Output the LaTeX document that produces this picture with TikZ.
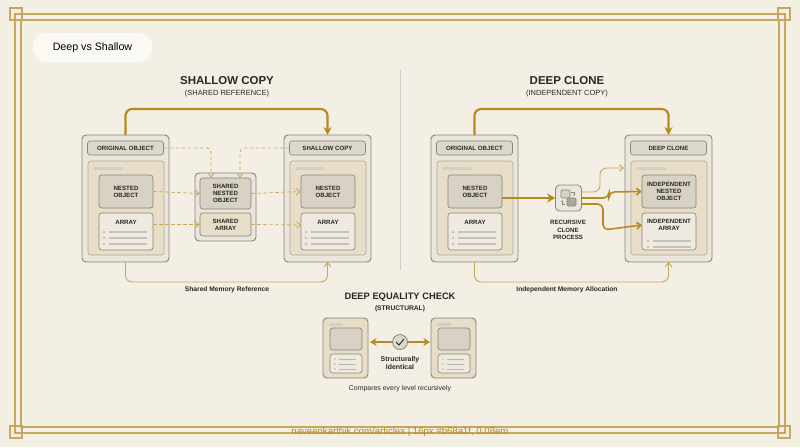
\documentclass[tikz,border=0pt]{standalone}
\usepackage{fontspec}
\setmainfont{Liberation Sans}
\usetikzlibrary{arrows.meta,shapes.geometric}
\definecolor{bg}{HTML}{F3EFE4}
\definecolor{gold}{HTML}{B68A1F}
\definecolor{goldl}{HTML}{C9A75A}
\definecolor{edge}{HTML}{8A857A}
\definecolor{outerf}{HTML}{EAE6DB}
\definecolor{headf}{HTML}{DCD8CC}
\definecolor{panel}{HTML}{E8DEC8}
\definecolor{nestf}{HTML}{D8D2C5}
\definecolor{arrf}{HTML}{EEEAE0}
\definecolor{txt}{HTML}{2A2824}
\begin{document}
\begin{tikzpicture}[x=0.75pt,y=-0.75pt,
  outer/.style={draw=edge,fill=outerf,rounded corners=3pt,line width=0.7pt},
  head/.style={draw=edge,fill=headf,rounded corners=2pt,line width=0.5pt},
  pan/.style={draw=edge!70,fill=panel,rounded corners=2pt,line width=0.5pt},
  nest/.style={draw=edge,fill=nestf,rounded corners=2pt,line width=0.5pt},
  arr/.style={draw=edge,fill=arrf,rounded corners=2pt,line width=0.5pt},
  lbl/.style={font=\fontsize{4.6}{5.4}\selectfont\bfseries,text=txt,align=center},
  gline/.style={draw=gold,line width=1.6pt,rounded corners=5pt},
  thin/.style={draw=goldl,line width=0.7pt,rounded corners=5pt},
  dsh/.style={draw=goldl,line width=0.6pt,dash pattern=on 2.5pt off 2pt,rounded corners=3pt},
  tip/.style={-{Stealth[length=6pt,width=6pt]}},
  otip/.style={-{Straight Barb[length=3pt,width=5pt]}},
  ttl/.style={font=\fontsize{8.6}{10}\selectfont\bfseries,text=txt},
  sub/.style={font=\fontsize{5.6}{7}\selectfont,text=txt}]
\fill[bg] (0,0) rectangle (800,447);
\useasboundingbox (0,0) rectangle (800,447);
% frame
\draw[goldl,line width=0.8pt] (15,14) rectangle (785,433) (21,20) rectangle (779,427);
\foreach \x/\y in {10/8,778/8,10/426,778/426}{\draw[goldl,line width=0.8pt] (\x,\y) rectangle ++(12,12);}
% pill
\node[draw=none,fill=white!60!bg,rounded corners=10pt,minimum width=119*0.75pt,minimum height=29*0.75pt,font=\fontsize{8}{9}\selectfont,text=black] (pill) at (92.5,47.5) {Deep vs Shallow};
\draw[edge!40,line width=0.4pt] (400,70) -- (400,270);
% titles
\node[ttl] (t1) at (227,81) {SHALLOW COPY};
\node[sub] (s1) at (227,94) {(SHARED REFERENCE)};
\node[ttl] (t2) at (567,81) {DEEP CLONE};
\node[sub] (s2) at (567,94) {(INDEPENDENT COPY)};
\newcommand{\objbox}[6]{%
 \draw[outer] (#2,135) rectangle ++(87,127);
 \coordinate (#1top) at ({#2+43.5},135);
 \coordinate (#1bot) at ({#2+43.5},262);
 \node[head,minimum width=76*0.75pt,minimum height=14*0.75pt,inner sep=0pt,lbl] (#1h) at ({#2+43.5},148) {#3};
 \draw[pan] ({#2+6},161) rectangle ++(76,94);
 \fill[edge!40,rounded corners=1pt] ({#2+11},167) rectangle ++(30,3);
 \node[nest,minimum width=54*0.75pt,minimum height=33*0.75pt,inner sep=0pt,lbl] (#1n) at ({#2+44},191.5) {#4};
 \draw[arr] ({#2+17},213) rectangle ++(54,37);
 \node[lbl] (#1a) at ({#2+44},#6) {#5};
 \coordinate (#1aw) at ({#2+17},225);
}
\objbox{o1}{82}{ORIGINAL OBJECT}{NESTED\\OBJECT}{ARRAY}{222}
\objbox{sc}{284}{SHALLOW COPY}{NESTED\\OBJECT}{ARRAY}{222}
\objbox{o2}{431}{ORIGINAL OBJECT}{NESTED\\OBJECT}{ARRAY}{222}
\objbox{dc}{625}{DEEP CLONE}{INDEPENDENT\\NESTED\\OBJECT}{INDEPENDENT\\ARRAY}{225}
\foreach \x in {99,301,448}{\foreach \y in {232,238,244}{\fill[edge!50] (\x+5,\y) circle (1.3); \draw[edge!50,line width=0.8pt] (\x+10,\y) -- (\x+48,\y);}}
\foreach \y in {241,247}{\fill[edge!50] (648,\y) circle (1.3); \draw[edge!50,line width=0.8pt] (653,\y) -- (691,\y);}
% shared
\draw[outer] (195,173) rectangle (256,241);
\node[nest,minimum width=51*0.75pt,minimum height=31*0.75pt,inner sep=0pt,lbl] (shn) at (225.5,193.5) {SHARED\\NESTED\\OBJECT};
\node[arr,fill=panel,minimum width=51*0.75pt,minimum height=23*0.75pt,inner sep=0pt,lbl] (sha) at (225.5,224.5) {SHARED\\ARRAY};
% dashed
\draw[dsh,otip] (o1h.east) -| ([xshift=-14.5*0.75pt]shn.north);
\draw[dsh,otip] (sch.west) -| ([xshift=14.5*0.75pt]shn.north);
\draw[dsh,otip] (o1n.east) -- (shn.west);
\draw[dsh,otip] (shn.east) -- (scn.west);
\draw[dsh,otip] (o1n.east|-sha.west) -- (sha.west);
\draw[dsh,otip] (sha.east) -- (scaw);
% top arrows
\draw[gline,tip] (o1top) -- ++(0,-26) -| (sctop);
\draw[gline,tip] (o2top) -- ++(0,-26) -| (dctop);
% bottom
\draw[thin,otip] (o1bot) -- ++(0,20) -| (scbot);
\draw[thin,otip] (o2bot) -- ++(0,20) -| (dcbot);
\node[lbl,font=\fontsize{5}{6}\selectfont\bfseries] (m1) at (227,290) {Shared Memory Reference};
\node[lbl,font=\fontsize{5}{6}\selectfont\bfseries] (m2) at (567,290) {Independent Memory Allocation};
% recursive clone
\node[draw=edge,fill=outerf,rounded corners=3pt,minimum size=26*0.75pt,line width=0.6pt] (rc) at (568.5,198) {};
\draw[edge,fill=nestf,rounded corners=1pt,line width=0.5pt] (561,190) rectangle ++(9,8);
\draw[edge,fill=nestf!80!black,rounded corners=1pt,line width=0.5pt] (567,198) rectangle ++(9,8);
\draw[edge,line width=0.4pt,-{Stealth[length=1.5pt]}] (571,192) -- (574,192) -- (574,196);
\draw[edge,line width=0.4pt,-{Stealth[length=1.5pt]}] (565,204) -- (562,204) -- (562,200);
\node[lbl] (rcl) at (568,230) {RECURSIVE\\CLONE\\PROCESS};
\draw[gline,line width=2pt,-{Stealth[length=6pt,width=7pt]}] (o2n.east|-rc.west) -- (rc.west);
\coordinate (u1) at (624,168);
\draw[thin,otip] (582,192) -- (600,192) -- (600,168) -- (u1);
\draw[gline,line width=1.2pt,rounded corners=4pt,otip] (582,198) -- (609,198) -- (609,192) -- (dcn.west);
\draw[gline,line width=1.2pt,rounded corners=4pt,otip] (582,204) -- (603,204) -- (603,230) -- (dcaw|-dca.west);
% equality check
\node[ttl,font=\fontsize{7}{8}\selectfont\bfseries] (t3) at (400,297) {DEEP EQUALITY CHECK};
\node[lbl,font=\fontsize{5}{6}\selectfont\bfseries] (s3) at (400,309) {(STRUCTURAL)};
\foreach \n/\x in {L/323,R/431}{
 \draw[outer,fill=panel] (\x,318) rectangle ++(45,60);
 \fill[edge!40] (\x+6,323) rectangle ++(14,2.5);
 \draw[nest] (\x+7,328) rectangle ++(32,22);
 \draw[arr] (\x+7,354) rectangle ++(32,19);
 \foreach \y in {359,364,369}{\fill[edge!60] (\x+12,\y) circle (0.9); \draw[edge!60,line width=0.6pt] (\x+16,\y) -- (\x+33,\y);}
}
\node[circle,draw=edge,fill=headf,minimum size=15*0.75pt,inner sep=0pt,line width=0.6pt] (chk) at (400,342) {};
\draw[txt,line width=0.7pt] (396,342) -- (399,345) -- (404,339);
\coordinate (aL) at (370,342); \coordinate (aR) at (430,342);
\draw[gold,line width=1.4pt,-{Stealth[length=5pt,width=6pt]}] (chk.west) -- (aL);
\draw[gold,line width=1.4pt,-{Stealth[length=5pt,width=6pt]}] (chk.east) -- (aR);
\node[lbl,font=\fontsize{5.2}{6}\selectfont\bfseries] (si) at (400,363) {Structurally\\Identical};
\node[font=\fontsize{5.2}{6}\selectfont,text=txt] (cmp) at (400,389) {Compares every level recursively};
\node[font=\fontsize{7.2}{8}\selectfont,text=gold] (ft) at (400,432) {naveenkarthik.com/articles \textbar{} 16px \#b68a1f, 0.08em};
\end{tikzpicture}
\end{document}
